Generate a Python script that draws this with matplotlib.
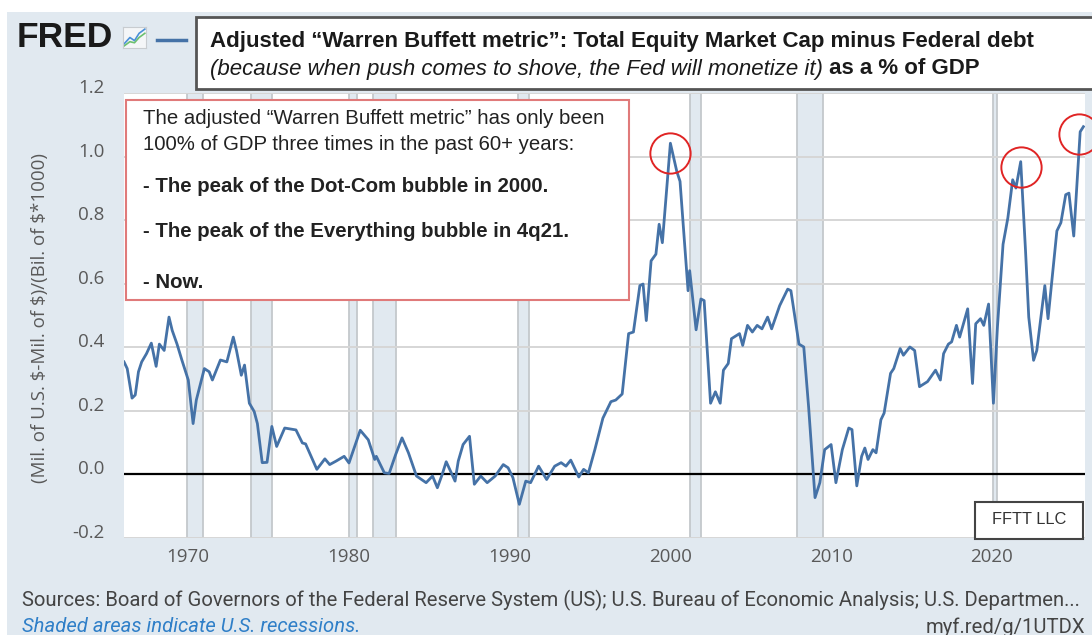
import matplotlib.pyplot as plt
from matplotlib.patches import Rectangle
from matplotlib import transforms

# values (decimal year, ratio)
years = [1966.0, 1966.2, 1966.5, 1966.7, 1966.9, 1967.1, 1967.4, 1967.7, 1968.0, 1968.2,
         1968.5, 1968.8, 1969.0, 1969.3, 1969.6, 1970.0, 1970.3, 1970.5, 1971.0, 1971.3,
         1971.5, 1972.0, 1972.4, 1972.8, 1973.0, 1973.3, 1973.5, 1973.8, 1974.1, 1974.3,
         1974.6, 1974.9, 1975.2, 1975.5, 1976.0, 1976.7, 1977.1, 1977.3, 1978.0, 1978.5,
         1978.8, 1979.2, 1979.7, 1980.0, 1980.7, 1981.2, 1981.6, 1981.7, 1982.2, 1982.5,
         1982.9, 1983.3, 1983.7, 1984.2, 1984.8, 1985.2, 1985.5, 1985.8, 1986.05, 1986.6,
         1986.8, 1987.1, 1987.5, 1987.8, 1988.2, 1988.6, 1989.1, 1989.6, 1989.9, 1990.2,
         1990.6, 1991.0, 1991.3, 1991.8, 1992.3, 1992.8, 1993.2, 1993.5, 1993.8, 1994.3,
         1994.6, 1994.9, 1995.3, 1995.8, 1996.3, 1996.6, 1997.0, 1997.4, 1997.7, 1998.1,
         1998.3, 1998.5, 1998.8, 1999.1, 1999.3, 1999.5, 2000.0, 2000.4, 2000.6, 2001.1,
         2001.2, 2001.6, 2001.9, 2002.1, 2002.5, 2002.8, 2003.1, 2003.3, 2003.6, 2003.8,
         2004.3, 2004.5, 2004.8, 2005.1, 2005.4, 2005.7, 2006.05, 2006.3, 2006.8, 2007.3,
         2007.5, 2008.0, 2008.3, 2008.6, 2009.0, 2009.3, 2009.6, 2010.0, 2010.3, 2010.7,
         2011.1, 2011.3, 2011.6, 2011.9, 2012.1, 2012.3, 2012.6, 2012.8, 2013.1, 2013.3,
         2013.7, 2013.9, 2014.3, 2014.5, 2014.9, 2015.2, 2015.5, 2016.0, 2016.5, 2016.8,
         2017.0, 2017.3, 2017.5, 2017.8, 2018.0, 2018.5, 2018.8, 2019.0, 2019.3, 2019.5,
         2019.8, 2020.1, 2020.35, 2020.7, 2021.0, 2021.3, 2021.5, 2021.8, 2022.1, 2022.3,
         2022.6, 2022.8, 2023.3, 2023.5, 2024.05, 2024.3, 2024.6, 2024.8, 2025.1, 2025.5,
         2025.7]
values = [0.354, 0.333, 0.24, 0.25, 0.323, 0.354, 0.38, 0.413, 0.34, 0.41,
          0.39, 0.495, 0.453, 0.41, 0.36, 0.297, 0.16, 0.234, 0.333, 0.323,
          0.297, 0.36, 0.354, 0.432, 0.39, 0.312, 0.344, 0.224, 0.198, 0.16,
          0.037, 0.038, 0.151, 0.088, 0.146, 0.14, 0.099, 0.096, 0.016, 0.049,
          0.031, 0.042, 0.057, 0.036, 0.139, 0.109, 0.047, 0.057, 0.005, 0.003,
          0.062, 0.115, 0.068, -0.005, -0.026, -0.005, -0.042, 0.0, 0.04, -0.021,
          0.042, 0.094, 0.12, -0.031, -0.005, -0.026, -0.005, 0.031, 0.021, -0.01,
          -0.094, -0.021, -0.026, 0.026, -0.016, 0.026, 0.037, 0.026, 0.045, -0.008,
          0.016, 0.005, 0.078, 0.177, 0.229, 0.234, 0.253, 0.443, 0.448, 0.594,
          0.599, 0.484, 0.672, 0.693, 0.787, 0.729, 1.042, 0.953, 0.922, 0.578,
          0.641, 0.455, 0.552, 0.547, 0.224, 0.26, 0.224, 0.328, 0.349, 0.427,
          0.443, 0.406, 0.469, 0.448, 0.469, 0.458, 0.495, 0.458, 0.531, 0.583,
          0.578, 0.41, 0.401, 0.213, -0.073, -0.026, 0.078, 0.094, -0.026, 0.078,
          0.146, 0.141, -0.036, 0.057, 0.083, 0.047, 0.078, 0.068, 0.172, 0.193,
          0.318, 0.333, 0.396, 0.375, 0.401, 0.39, 0.276, 0.292, 0.328, 0.297,
          0.38, 0.41, 0.417, 0.469, 0.432, 0.521, 0.286, 0.474, 0.49, 0.469,
          0.536, 0.224, 0.463, 0.724, 0.807, 0.927, 0.901, 0.984, 0.703, 0.495,
          0.359, 0.39, 0.594, 0.49, 0.766, 0.792, 0.88, 0.885, 0.75, 1.078,
          1.094]

recessions = [(1969.9, 1970.9), (1973.9, 1975.2), (1980.0, 1980.5), (1981.5, 1982.9),
              (1990.5, 1991.2), (2001.2, 2001.9), (2007.9, 2009.5), (2020.1, 2020.3)]

# the three peaks circled in red
peak_years = [2000.0, 2021.8, 2025.4]
peak_vals = [1.01, 0.966, 1.07]

xticks = [1970, 1980, 1990, 2000, 2010, 2020]
yticks = [-0.2, 0.0, 0.2, 0.4, 0.6, 0.8, 1.0, 1.2]

W, H = 1092, 635
BG = '#e1e9f0'
LINE = '#4572a7'
GREY = '#595959'


def fx(x):
    return x / W


def fy(y):
    return 1 - y / H


fig = plt.figure(figsize=(W / 100, H / 100), dpi=100, facecolor='white')
fig.patches.append(Rectangle((fx(7), 0), 1, fy(12), transform=fig.transFigure,
                             facecolor=BG, edgecolor='none', zorder=-10))

ax = fig.add_axes([fx(124), fy(538), fx(1085) - fx(124), fy(93) - fy(538)])
ax.set_facecolor('white')
for r0, r1 in recessions:
    ax.axvspan(r0, r1, facecolor=BG, edgecolor='#c4c8cc', lw=1.3, zorder=0.2)
ax.plot(years, values, color=LINE, lw=2, zorder=3)
ax.axhline(0, color='black', lw=1.6, zorder=2)

ax.set_xlim(1966.0, 2025.8)
ax.set_ylim(-0.2, 1.2)
ax.set_xticks(xticks)
ax.set_yticks(yticks)
ax.set_yticklabels([f'{v:.1f}' for v in yticks])
ax.grid(axis='y', color='#d6d6d6', lw=1.4)
ax.set_axisbelow(True)
for s in ax.spines.values():
    s.set_visible(False)
ax.tick_params(length=0, labelsize=13.5, labelcolor=GREY)
ax.tick_params(axis='y', pad=14)
ax.tick_params(axis='x', pad=7)
for lab in ax.get_yticklabels() + ax.get_xticklabels():
    lab.set_fontfamily('Open Sans')
shift = transforms.ScaledTranslation(0, 0.07, fig.dpi_scale_trans)
for lab in ax.get_yticklabels():
    lab.set_transform(lab.get_transform() + shift)

ax.plot(peak_years, peak_vals, 'o', ms=29, mfc='none', mec='#e02424', mew=1.4,
        clip_on=False, zorder=5)

fig.text(fx(40), fy(318), '(Mil. of U.S. $-Mil. of $)/(Bil. of $*1000)', rotation=90,
         ha='center', va='center', fontsize=13.5, color=GREY, family='Open Sans')

# FRED logo, icon and legend swatch
fig.text(fx(17), fy(47), 'FRED', fontsize=25.5, fontweight='bold', color='#1a1a1a',
         family='Liberation Sans', va='baseline')
icon = fig.add_axes([fx(123), fy(48), fx(23), 21 / H])
icon.set_xlim(0, 1)
icon.set_ylim(0, 1)
icon.set_xticks([])
icon.set_yticks([])
icon.set_facecolor('#f4f6f8')
for s in icon.spines.values():
    s.set_color('#c8ccd0')
icon.plot([0.05, 0.3, 0.5, 0.7, 0.95], [0.2, 0.5, 0.35, 0.7, 0.9], color='#4a90d9', lw=1.2)
icon.plot([0.05, 0.3, 0.5, 0.7, 0.95], [0.1, 0.3, 0.25, 0.5, 0.7], color='#6cc070', lw=1.2)
fig.add_artist(plt.Line2D([fx(157), fx(186)], [fy(40), fy(40)], color=LINE, lw=2.5))

# title box
fig.patches.append(Rectangle((fx(196), fy(89)), 1, fy(17) - fy(89), transform=fig.transFigure,
                             facecolor='white', edgecolor='#555555', lw=2, zorder=5))
fig.text(fx(210), fy(42), 'Adjusted \u201cWarren Buffett metric\u201d: Total Equity Market Cap minus Federal debt',
         fontsize=16, fontweight='bold', color='#1a1a1a', family='Liberation Sans',
         va='center', zorder=6)
t2 = fig.text(fx(210), fy(69), '(because when push comes to shove, the Fed will monetize it)',
              fontsize=16, style='italic', color='#1a1a1a', family='Liberation Sans',
              va='center', zorder=6)
fig.add_artist(plt.Annotation(' as a % of GDP', xy=(1, 0.5), xycoords=t2, va='center',
                              fontsize=16, fontweight='bold', color='#1a1a1a',
                              family='Liberation Sans', zorder=6))

# annotation box
fig.patches.append(Rectangle((fx(126), fy(300)), fx(629) - fx(126), fy(100) - fy(300),
                             transform=fig.transFigure, facecolor='white',
                             edgecolor='#e07a7a', lw=1.5, zorder=5))
notes = [('The adjusted \u201cWarren Buffett metric\u201d has only been', 'normal', 118),
         ('100% of GDP three times in the past 60+ years:', 'normal', 145),
         ('- The peak of the Dot-Com bubble in 2000.', 'bold', 187),
         ('- The peak of the Everything bubble in 4q21.', 'bold', 231),
         ('- Now.', 'bold', 282)]
for txt, wt, y in notes:
    fig.text(fx(143), fy(y), txt, fontsize=14.7, fontweight=wt, color='#222222',
             family='Liberation Sans', va='center', zorder=6)

# FFTT LLC tag
fig.patches.append(Rectangle((fx(975), fy(539)), fx(1083) - fx(975), fy(502) - fy(539),
                             transform=fig.transFigure, facecolor='white',
                             edgecolor='#444444', lw=1.5, zorder=5))
fig.text(fx(1029), fy(520), 'FFTT LLC', fontsize=11.8, color='#333333', family='Liberation Sans',
         ha='center', va='center', zorder=6)

# footer
fig.text(fx(22), fy(600), 'Sources: Board of Governors of the Federal Reserve System (US); '
         'U.S. Bureau of Economic Analysis; U.S. Departmen...',
         fontsize=14.6, color='#444444', family='Roboto', va='center')
fig.text(fx(22), fy(627), 'Shaded areas indicate U.S. recessions.', fontsize=14.6,
         color='#2f7fc8', style='italic', family='Roboto', va='center')
fig.text(fx(1085), fy(627), 'myf.red/g/1UTDX', fontsize=14.6, color='#444444',
         family='Roboto', ha='right', va='center')

fig.savefig('out.png', dpi=100, facecolor='white')
